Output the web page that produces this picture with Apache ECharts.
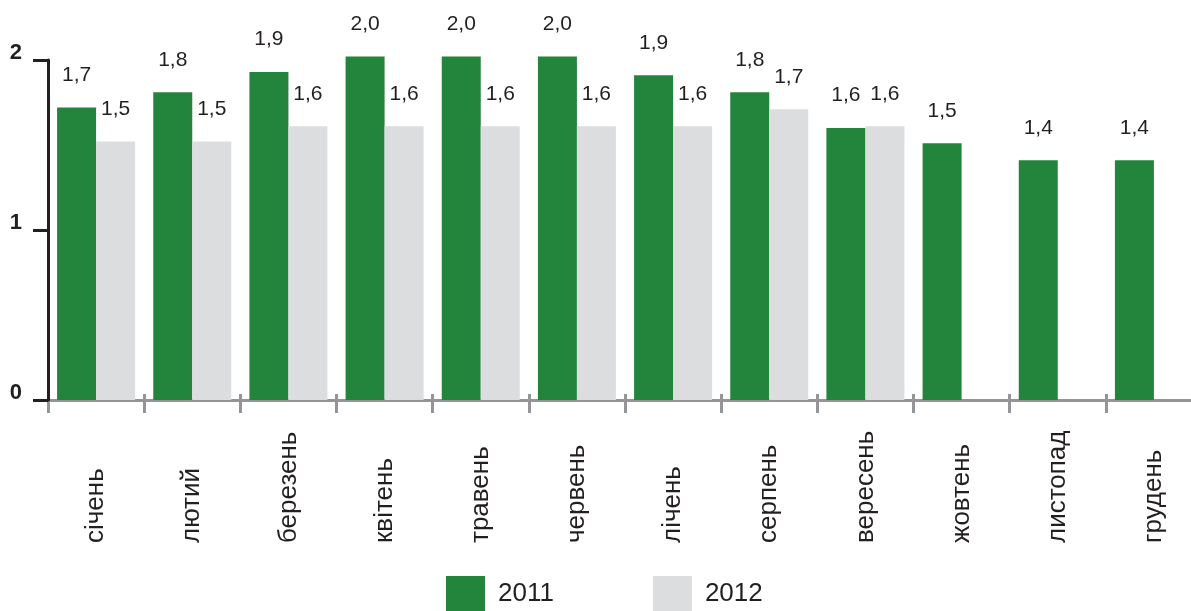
<!DOCTYPE html>
<html>
<head>
<meta charset="utf-8">
<script src="https://cdn.jsdelivr.net/npm/echarts@6/dist/echarts.min.js"></script>
<style>
html,body{margin:0;padding:0;background:#fff;}
#chart{width:1191px;height:611px;}
</style>
</head>
<body>
<div id="chart"></div>
<script>
const categories = ['січень','лютий','березень','квітень','травень','червень','лічень','серпень','вересень','жовтень','листопад','грудень'];
const values2011 = [1.72, 1.81, 1.93, 2.02, 2.02, 2.02, 1.91, 1.81, 1.60, 1.51, 1.41, 1.41];
const values2012 = [1.52, 1.52, 1.61, 1.61, 1.61, 1.61, 1.61, 1.71, 1.61, null, null, null];
const seriesNames = ['2011', '2012'];
const yTicks = [0, 1, 2];

const textColor = '#231f20';
const fontFamily = 'Arial, "Liberation Sans", Helvetica, sans-serif';
const fmt = p => (p.value == null ? '' : p.value.toFixed(1).replace('.', ','));

const chart = echarts.init(document.getElementById('chart'));
chart.setOption({
  animation: false,
  textStyle: { fontFamily: fontFamily },
  grid: { left: 48, top: 60, width: 1154, height: 340, containLabel: false, outerBoundsMode: 'none' },
  legend: {
    data: seriesNames,
    icon: 'rect',
    left: 446,
    top: 576,
    padding: 0,
    itemWidth: 39,
    itemHeight: 35,
    itemGap: 99,
    textStyle: { fontSize: 26, color: textColor, fontFamily: fontFamily, padding: [0, 0, 0, 8] }
  },
  xAxis: [
    {
      type: 'category',
      data: categories,
      position: 'bottom',
      axisLine: { show: true, lineStyle: { color: '#939598', width: 3 } },
      axisTick: { show: true, length: 13, lineStyle: { color: '#939598', width: 3 } },
      axisLabel: {
        rotate: 90,
        align: 'left',
        verticalAlign: 'middle',
        margin: 143,
        fontSize: 26,
        color: textColor,
        fontFamily: fontFamily,
        interval: 0
      },
      splitLine: { show: false }
    },
    {
      type: 'category',
      data: categories,
      position: 'bottom',
      axisLine: { show: false },
      axisTick: { show: true, inside: true, length: 6, lineStyle: { color: '#939598', width: 3 } },
      axisLabel: { show: false },
      splitLine: { show: false }
    }
  ],
  yAxis: {
    type: 'value',
    min: yTicks[0],
    max: yTicks[yTicks.length - 1],
    interval: 1,
    axisLine: { show: true, lineStyle: { color: textColor, width: 3 } },
    axisTick: { show: true, length: 15, lineStyle: { color: textColor, width: 3 } },
    axisLabel: {
      fontSize: 22,
      fontWeight: 'bold',
      color: textColor,
      fontFamily: fontFamily,
      margin: 26,
      verticalAlign: 'bottom',
      lineHeight: 14
    },
    splitLine: { show: false },
    z: 3
  },
  series: [
    {
      name: seriesNames[0],
      type: 'bar',
      data: values2011,
      barWidth: 39,
      barGap: '0%',
      clip: false,
      itemStyle: { color: '#23843c' },
      label: { show: true, position: 'top', distance: 22, fontSize: 21, color: textColor, fontFamily: fontFamily, formatter: fmt }
    },
    {
      name: seriesNames[1],
      type: 'bar',
      data: values2012,
      barWidth: 39,
      barGap: '0%',
      clip: false,
      itemStyle: { color: '#dcdddf' },
      label: { show: true, position: 'top', distance: 22, fontSize: 21, color: textColor, fontFamily: fontFamily, formatter: fmt }
    }
  ]
});
</script>
</body>
</html>
